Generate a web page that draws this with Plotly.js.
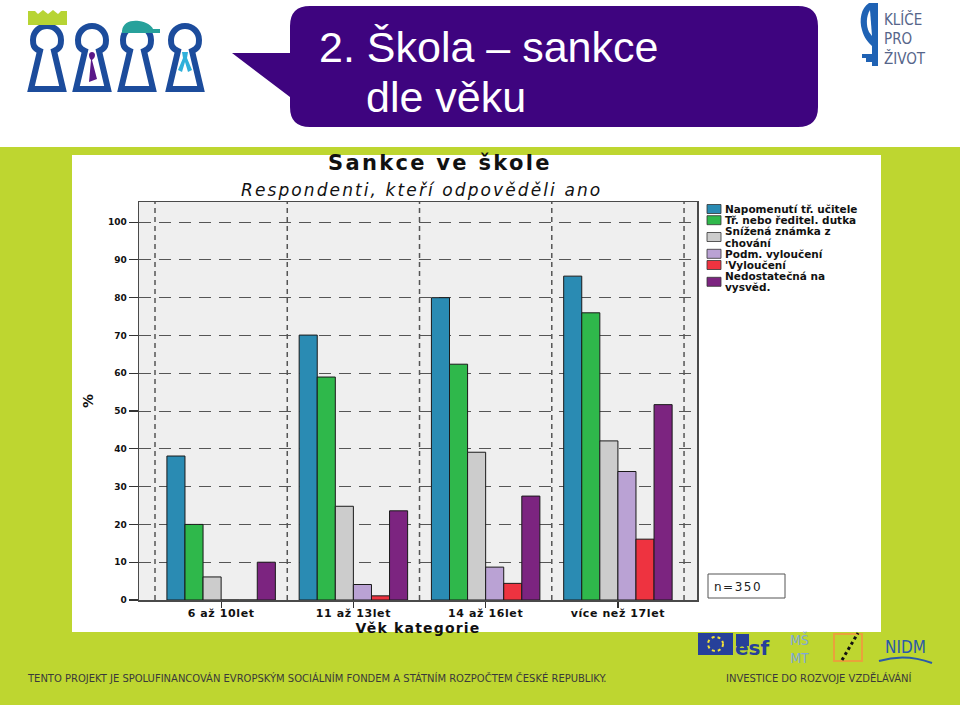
<!DOCTYPE html>
<html><head><meta charset="utf-8">
<script src="https://cdn.plot.ly/plotly-3.0.1.min.js"></script>
<style>html,body{margin:0;padding:0;background:#fff}#chart{width:960px;height:705px}</style>
</head><body><div id="chart"></div>
<script>
// ---- data ----
const categories = ['6 až 10let', '11 až 13let', '14 až 16let', 'více než 17let'];
const seriesNames = ['Napomenutí tř. učitele', 'Tř. nebo ředitel. dutka', 'Snížená známka z<br>chování', 'Podm. vyloučení', "'Vyloučení", 'Nedostatečná na<br>vysvěd.'];
const napomenuti = [38.1, 70.1, 80.0, 85.7];
const dutka = [20.0, 59.0, 62.4, 76.0];
const znamka = [6.1, 24.8, 39.1, 42.1];
const podmVylouceni = [0, 4.1, 8.7, 34.0];
const vylouceni = [0, 1.1, 4.4, 16.1];
const nedostatecna = [10.0, 23.6, 27.5, 51.7];
const seriesColors = ['#2a8bb3', '#2fb84b', '#cccccc', '#baa2d4', '#ee3340', '#7c2480'];
const yTickVals = [0, 10, 20, 30, 40, 50, 60, 70, 80, 90, 100];
const sampleNote = 'n=350';

const allSeries = [napomenuti, dutka, znamka, podmVylouceni, vylouceni, nedostatecna];

// ---- helpers (page pixel -> paper) ----
const W = 960, H = 705;
const fx = x => x / W, fy = y => 1 - y / H;
const rect = (x0, y0, x1, y1, fill, line, lw) => ({type: 'rect', xref: 'paper', yref: 'paper', layer: 'below',
  x0: fx(x0), x1: fx(x1), y0: fy(y1), y1: fy(y0), fillcolor: fill || 'rgba(0,0,0,0)',
  line: {color: line || 'rgba(0,0,0,0)', width: lw || 0}});
const pth = (d, fill, line, lw, dash) => ({type: 'path', xref: 'paper', yref: 'paper', layer: 'below',
  path: d.replace(/(-?[\d.]+),(-?[\d.]+)/g, (m, a, b) => fx(+a) + ',' + fy(+b)),
  fillcolor: fill || 'rgba(0,0,0,0)', line: {color: line || 'rgba(0,0,0,0)', width: lw || 0, dash: dash || 'solid'}});
const ann = (x, y, text, o) => Object.assign({xref: 'paper', yref: 'paper', x: fx(x), y: fy(y), text: text,
  showarrow: false, xanchor: 'center', yanchor: 'middle'}, o || {});
const spaced = (t, s) => '<span style="letter-spacing:' + s + 'px">' + t + '</span>';

const DJ = 'DejaVu Sans, Arial, sans-serif';
const NARROW = 'Liberation Sans Narrow, DejaVu Sans Condensed, Arial, sans-serif';

// ---- plot area geometry ----
const PL = 139, PR = 697, PT = 202, PB = 600;

// ---- traces ----
const traces = allSeries.map((vals, i) => ({
  type: 'bar', x: categories, y: vals, name: seriesNames[i].replace('<br>', ' '),
  marker: {color: seriesColors[i], line: {color: '#1a1a1a', width: 1}},
  showlegend: false
}));

// ---- shapes ----
const shapes = [];
shapes.push(rect(0, 0, 960, 147, '#ffffff'));
// speech bubble
shapes.push(pth('M 310,6 L 798,6 Q 818,6 818,26 L 818,107 Q 818,127 798,127 L 310,127 Q 290,127 290,107 L 290,97 L 232,53 L 290,53 L 290,26 Q 290,6 310,6 Z', '#3e047f'));
// keyhole logo
[47, 92, 137, 185].forEach(cx => {
  const c = v => (cx + v);
  shapes.push(pth(`M ${c(-7)},51 C ${c(-14)},48 ${c(-14)},44 ${c(-14)},40 C ${c(-14)},32 ${c(-7.7)},26 ${c(0)},26 C ${c(7.7)},26 ${c(14)},32 ${c(14)},40 C ${c(14)},44 ${c(14)},48 ${c(7)},51 L ${c(16)},89 L ${c(-16)},89 Z`, '#ffffff', '#1c4c9c', 6));
});
shapes.push(pth('M 28,11 L 35,11 L 38,14 L 43,10 L 48,14 L 53,10 L 58,14 L 61,11 L 67,11 L 67,25 L 28,25 Z', '#b7d434'));
shapes.push(pth('M 122,31 C 123,22 131,20 139,21 C 147,22 152,26 153,29 L 160,29 L 160,33 L 122,33 Z', '#27a19b'));
shapes.push(pth('M 89,55 C 89,51 95,51 95,55 C 95,58 93,59 92,60 L 97,79 L 89,82 L 91,60 C 90,59 89,57 89,55 Z', '#5a1888'));
shapes.push(pth('M 182,52 L 188,52 L 187,58 L 192,70 L 188,72 L 185,62 L 182,72 L 178,70 L 183,58 Z', '#2fb0da'));
// right top logo silhouette
shapes.push(pth('M 869,3 C 861,8 859,20 862,30 C 864,38 868,42 872,46 L 872,54 L 862,54 L 862,58 L 866,58 L 866,62 L 872,62 L 872,66 L 878,66 L 878,3 Z', '#1f62b4'));
shapes.push(pth('M 870,10 C 866,16 866,26 869,32 L 872,36 Z', '#ffffff'));
// chart white box
shapes.push(rect(72, 155, 881, 632, '#ffffff'));
// plot area background
shapes.push(rect(PL, PT, PR, PB, '#efefef'));
// category boundary dashed lines
for (let k = 0; k <= categories.length; k++) {
  shapes.push({type: 'line', xref: 'x', yref: 'paper', layer: 'below', x0: k - 0.5, x1: k - 0.5,
    y0: fy(PB), y1: fy(PT), line: {color: '#555555', width: 1.5, dash: '5px,4px'}});
}
// n=350 box
shapes.push(rect(708, 574, 785, 598, '#ffffff', '#555555', 1));
// manual legend
const annotations = [];
let row = 0;
const LINE = 11.2, L0 = 209;
seriesNames.forEach((nm, i) => {
  const lines = nm.split('<br>');
  const yc = L0 + (row + (lines.length - 1) / 2) * LINE;
  shapes.push(rect(707, yc - 4.5, 721, yc + 4.5, seriesColors[i], '#333333', 0.8));
  lines.forEach((ln, j) => {
    annotations.push(ann(723, L0 + (row + j) * LINE, ln, {xanchor: 'left', font: {family: DJ, size: 10.5, weight: 700, color: '#111'}}));
  });
  row += lines.length;
});
// bottom logos
shapes.push(rect(698, 633, 733, 655, '#26409a'));
shapes.push({type: 'circle', xref: 'paper', yref: 'paper', layer: 'below', x0: fx(708), x1: fx(723), y0: fy(651), y1: fy(637), line: {color: '#f3e23a', width: 2, dash: 'dot'}});
shapes.push(rect(736, 634, 749, 646, '#26409a'));
shapes.push(rect(834, 634, 862, 661, null, '#e9a23b', 2));
shapes.push(pth('M 842,660 L 858,633', null, '#111111', 3, 'dot'));
shapes.push(pth('M 879,661 Q 905,653 932,663', null, '#2b5aa8', 2));

// ---- annotations ----
annotations.push(ann(317, 47, '2. Škola – sankce', {xanchor: 'left', font: {family: 'Liberation Sans, Arial, sans-serif', size: 43, color: '#ffffff'}}));
annotations.push(ann(364, 97, 'dle věku', {xanchor: 'left', font: {family: 'Liberation Sans, Arial, sans-serif', size: 43, color: '#ffffff'}}));
annotations.push(ann(882, 19, 'KLÍČE', {xanchor: 'left', font: {family: NARROW, size: 15, color: '#56658a'}}));
annotations.push(ann(882, 38.5, 'PRO', {xanchor: 'left', font: {family: NARROW, size: 15, color: '#56658a'}}));
annotations.push(ann(882, 58, 'ŽIVOT', {xanchor: 'left', font: {family: NARROW, size: 15, color: '#56658a'}}));
annotations.push(ann(440, 163, spaced('Sankce ve škole', 2.3), {font: {family: DJ, size: 21, weight: 700, color: '#111'}}));
annotations.push(ann(421, 190, spaced('<i>Respondenti, kteří odpověděli ano</i>', 2.1), {font: {family: DJ, size: 17, color: '#111'}}));
annotations.push(ann(712, 587, spaced(sampleNote, 1.5), {xanchor: 'left', font: {family: DJ, size: 12, color: '#222'}}));
annotations.push(ann(25, 678, 'TENTO PROJEKT JE SPOLUFINANCOVÁN EVROPSKÝM SOCIÁLNÍM FONDEM A STÁTNÍM ROZPOČTEM ČESKÉ REPUBLIKY.', {xanchor: 'left', font: {family: NARROW, size: 11.1, color: '#3a3a3a'}}));
annotations.push(ann(724, 678, 'INVESTICE DO ROZVOJE VZDĚLÁVÁNÍ', {xanchor: 'left', font: {family: NARROW, size: 11.1, color: '#3a3a3a'}}));
annotations.push(ann(752, 648, 'esf', {font: {family: 'DejaVu Sans, Arial', size: 20, weight: 700, color: '#26409a'}}));
annotations.push(ann(799, 648, 'MŠ<br>MT', {font: {family: NARROW, size: 14, color: '#7fa8d8'}}));
annotations.push(ann(905, 647, 'NIDM', {font: {family: NARROW, size: 17, color: '#2b5aa8'}}));

const layout = {
  width: 960, height: 705, margin: {l: 0, r: 0, t: 0, b: 0},
  paper_bgcolor: '#bed630', plot_bgcolor: 'rgba(0,0,0,0)',
  barmode: 'group', bargap: 0.18, bargroupgap: 0, showlegend: false,
  xaxis: {domain: [fx(PL), fx(PR)], type: 'category', range: [-0.621, 3.598], fixedrange: true,
    tickvals: categories, ticktext: categories.map(c => spaced(c, 0.6)),
    ticks: 'outside', ticklen: 6, tickcolor: '#333', tickwidth: 1.2, ticklabelstandoff: -4,
    tickfont: {family: DJ, size: 11, weight: 700, color: '#111'},
    showline: true, mirror: true, linecolor: '#4a4a4a', linewidth: 1.5, showgrid: false,
    title: {text: spaced('Věk kategorie', 1.2), standoff: 1, font: {family: DJ, size: 14, weight: 700, color: '#111'}}},
  yaxis: {domain: [fy(PB), fy(PT)], range: [0, (PB - PT) / 3.779], fixedrange: true,
    tickvals: yTickVals, ticks: 'outside', ticklen: 9, tickcolor: '#333', tickwidth: 1.2,
    tickfont: {family: DJ, size: 9, weight: 700, color: '#111'},
    showline: true, mirror: true, linecolor: '#4a4a4a', linewidth: 1.5,
    showgrid: true, gridcolor: '#555555', gridwidth: 1, griddash: '12px,8px', zeroline: false,
    title: {text: '%', standoff: 11, font: {family: DJ, size: 14, weight: 700, color: '#111'}}},
  shapes: shapes, annotations: annotations
};

Plotly.newPlot('chart', traces, layout, {displayModeBar: false, staticPlot: true});
</script></body></html>
